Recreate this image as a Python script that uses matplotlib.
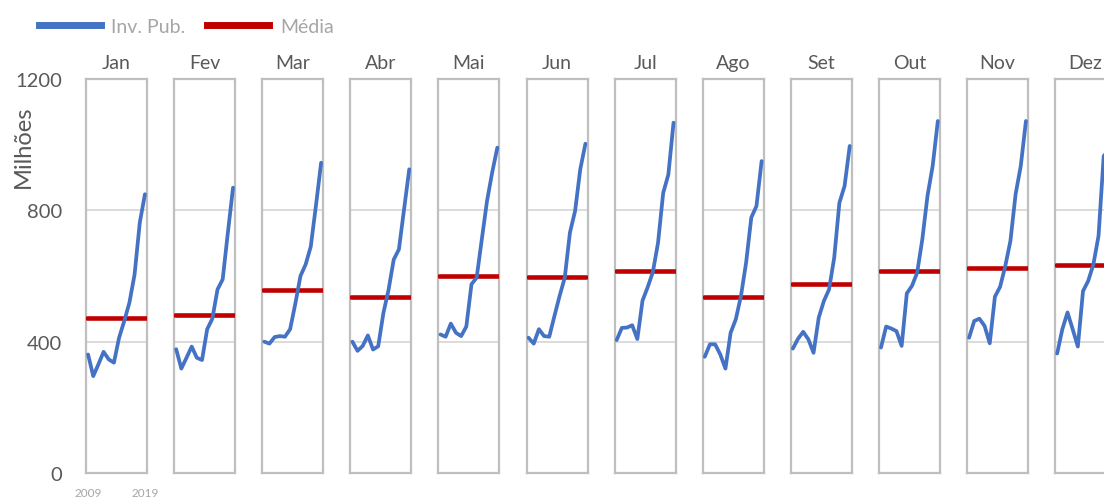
import matplotlib.pyplot as plt
from matplotlib.lines import Line2D


COLORS = {
    'azul': '#4472C4',
    'vermelho': '#C00000',
    'borda': '#BFBFBF',
    'grade': '#D9D9D9',
    'texto': '#595959',
    'texto_claro': '#A6A6A6',
}

plt.rcParams['font.family'] = ['Lato', 'DejaVu Sans']

meses = ['Jan', 'Fev', 'Mar', 'Abr', 'Mai', 'Jun',
         'Jul', 'Ago', 'Set', 'Out', 'Nov', 'Dez']
rotulos_anos = ['2009', '2019']

# investimento público por mês, um valor por ano (milhões)
inv_jan = [361, 295, 331, 369, 346, 336, 412, 463, 519, 605, 762, 849]
inv_fev = [377, 318, 351, 385, 351, 344, 438, 470, 559, 590, 732, 869]
inv_mar = [400, 394, 414, 417, 415, 438, 515, 600, 635, 690, 815, 945]
inv_abr = [400, 372, 387, 419, 376, 386, 487, 558, 650, 681, 803, 925]
inv_mai = [422, 415, 455, 427, 417, 446, 575, 595, 712, 828, 915, 991]
inv_jun = [412, 394, 438, 417, 415, 478, 539, 595, 732, 798, 925, 1003]
inv_jul = [405, 442, 443, 450, 408, 525, 566, 612, 701, 853, 909, 1067]
inv_ago = [354, 392, 392, 361, 318, 427, 468, 539, 641, 778, 813, 950]
inv_set = [379, 409, 430, 407, 366, 473, 524, 559, 656, 823, 874, 996]
inv_out = [382, 446, 440, 432, 387, 547, 570, 610, 712, 844, 935, 1072]
inv_nov = [412, 463, 470, 448, 395, 537, 567, 630, 707, 849, 935, 1072]
inv_dez = [364, 438, 489, 438, 385, 554, 585, 635, 722, 965, 985, 1040]

series = [inv_jan, inv_fev, inv_mar, inv_abr, inv_mai, inv_jun,
          inv_jul, inv_ago, inv_set, inv_out, inv_nov, inv_dez]

y_ticks = [0, 400, 800, 1200]

W, H = 1104, 502
fig = plt.figure(figsize=(W / 100, H / 100), dpi=100)
fig.patch.set_facecolor('white')


def _painel(i, valores):
    """Desenha um painel mensal com a série e a média"""
    left = 86 + i * 88.1
    ax = fig.add_axes([left / W, 28 / H, 61 / W, 394 / H])
    n = len(valores)
    xs = list(range(n))
    media = sum(valores) / n

    ax.set_xlim(-0.4, n - 1 + 0.4)
    ax.set_ylim(y_ticks[0], y_ticks[-1])
    ax.set_yticks(y_ticks)
    ax.grid(axis='y', color=COLORS['grade'], linewidth=1.3)
    ax.set_axisbelow(True)
    for sp in ax.spines.values():
        sp.set_color(COLORS['borda'])
        sp.set_linewidth(1.6)

    ax.plot([-0.2, n - 1 + 0.2], [media, media], color=COLORS['vermelho'],
            linewidth=3.3, solid_capstyle='round', zorder=3)
    ax.plot(xs, valores, color=COLORS['azul'], linewidth=2.7,
            solid_capstyle='round', solid_joinstyle='round', zorder=4)

    ax.set_title(meses[i], fontsize=14, color=COLORS['texto'], pad=8)

    if i == 0:
        ax.tick_params(axis='y', length=0, pad=17, labelsize=14.5,
                       labelcolor=COLORS['texto'])
        ax.set_xticks([0, n - 1])
        ax.set_xticklabels(rotulos_anos)
        ax.tick_params(axis='x', length=0, pad=10, labelsize=8.5,
                       labelcolor=COLORS['texto_claro'])
        ax.set_ylabel('Milhões', fontsize=17, color=COLORS['texto'])
        ax.yaxis.set_label_coords(-0.86, 0.83)
    else:
        ax.tick_params(left=False, labelleft=False, bottom=False,
                       labelbottom=False)
        ax.set_xticks([])
    return ax


for i, valores in enumerate(series):
    _painel(i, valores)

handles = [Line2D([], [], color=COLORS['azul'], linewidth=5),
           Line2D([], [], color=COLORS['vermelho'], linewidth=5)]
fig.legend(handles, ['Inv. Pub.', 'Média'], loc='upper left',
           bbox_to_anchor=(21 / W, 0.997), ncol=2, frameon=False,
           fontsize=14, labelcolor=COLORS['texto_claro'],
           handlelength=3.2, handletextpad=0.55, columnspacing=1.1)

fig.savefig('out.png', dpi=100, facecolor='white')
